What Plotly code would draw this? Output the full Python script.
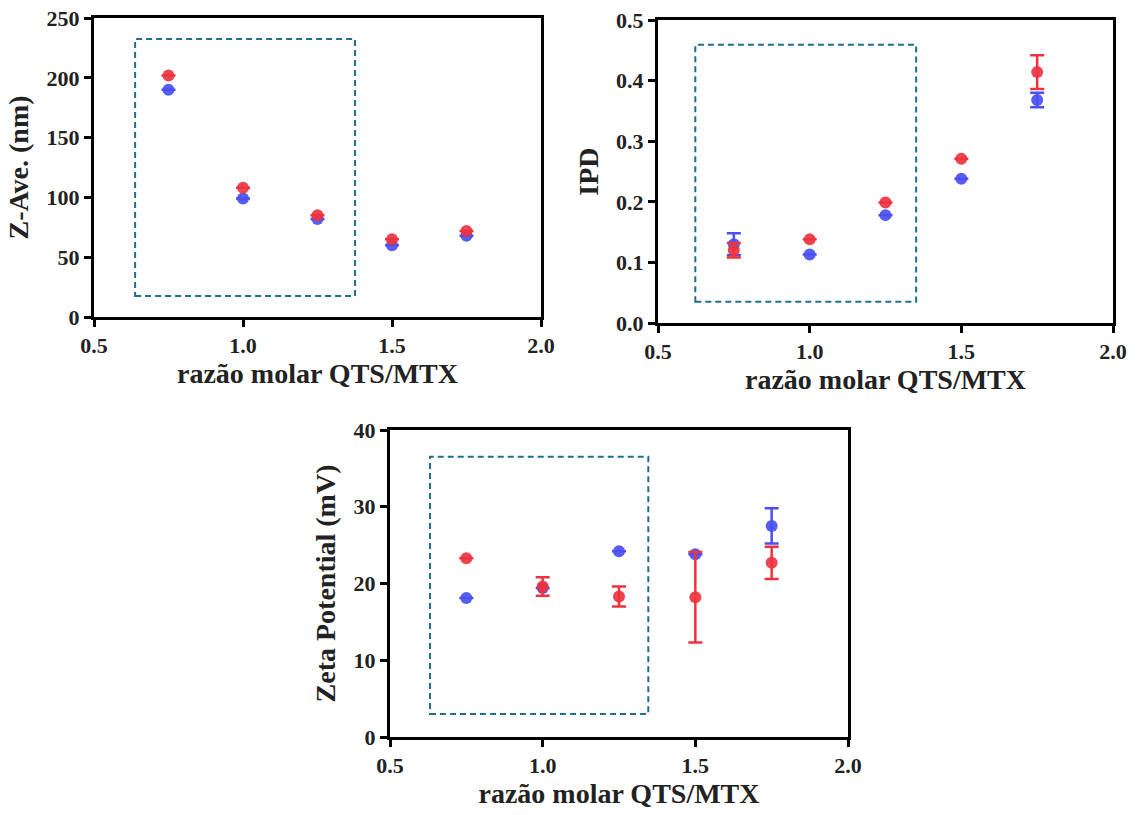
import plotly.graph_objects as go

# ---------------- data ----------------
ratio = [0.75, 1.0, 1.25, 1.5, 1.75]

zave_blue = [190, 99, 82, 60, 68]
zave_blue_err = [0, 0, 0, 0, 0]
zave_red = [202, 108, 85, 65, 72]
zave_red_err = [0, 0, 0, 0, 0]

ipd_blue = [0.130, 0.113, 0.178, 0.238, 0.368]
ipd_blue_err = [0.018, 0, 0, 0, 0.012]
ipd_red = [0.120, 0.138, 0.199, 0.271, 0.414]
ipd_red_err = [0.012, 0, 0, 0, 0.028]

zeta_blue = [18.1, 19.4, 24.2, 23.8, 27.5]
zeta_blue_err = [0, 0, 0, 0, 2.3]
zeta_red = [23.3, 19.6, 18.3, 18.2, 22.7]
zeta_red_err = [0, 1.2, 1.3, 5.9, 2.1]

# dashed highlight boxes: [x0, x1, y0, y1]
box_zave = [0.638, 1.376, 17.5, 232.5]
box_ipd = [0.623, 1.351, 0.035, 0.459]
box_zeta = [0.631, 1.346, 3.0, 36.5]

x_ticks = [0.5, 1.0, 1.5, 2.0]
x_title = "razão molar QTS/MTX"

BLUE = "#4a4ff0"
RED = "#ee3340"
BOX = "#1f6f8b"
FONT = "Liberation Serif"

fig = go.Figure()

panels = [
    ("x", "y", zave_blue, zave_blue_err, zave_red, zave_red_err),
    ("x2", "y2", ipd_blue, ipd_blue_err, ipd_red, ipd_red_err),
    ("x3", "y3", zeta_blue, zeta_blue_err, zeta_red, zeta_red_err),
]

for xa, ya, b, be, r, re in panels:
    for vals, errs, col in ((b, be, BLUE), (r, re, RED)):
        fig.add_trace(go.Scatter(
            x=ratio, y=vals, xaxis=xa, yaxis=ya, mode="markers",
            marker=dict(color=col, size=12, symbol="circle", opacity=0.92),
            error_y=dict(type="data", array=errs, color=col, thickness=2.5, width=7),
            showlegend=False, hoverinfo="x+y",
        ))

axis_common = dict(
    showline=True, linecolor="black", linewidth=3, mirror=True,
    ticks="outside", ticklen=7, tickwidth=3, tickcolor="black",
    showgrid=False, zeroline=False, automargin=False,
    tickfont=dict(family=FONT, size=22, color="#222222", weight="bold"),
    title_font=dict(family=FONT, size=28, color="#222222", weight="bold"),
)

def xaxis(domain, anchor):
    return dict(axis_common, domain=domain, anchor=anchor, range=[0.5, 2.0],
                tickvals=x_ticks, tickformat=".1f",
                title=dict(text=x_title, standoff=6))

def yaxis(domain, anchor, rng, dtick, fmt, title):
    return dict(axis_common, domain=domain, anchor=anchor, range=rng,
                dtick=dtick, tick0=0, tickformat=fmt,
                title=dict(text=title, standoff=10))

W, H = 1140, 815
fig.update_layout(
    width=W, height=H, autosize=False,
    margin=dict(l=0, r=0, t=0, b=0, autoexpand=False),
    paper_bgcolor="white", plot_bgcolor="white",
    font=dict(family=FONT),
    xaxis=xaxis([94 / W, 541 / W], "y"),
    yaxis=yaxis([1 - 317 / H, 1 - 18 / H], "x", [0, 250], 50, "d", "Z-Ave. (nm)"),
    xaxis2=xaxis([658 / W, 1113 / W], "y2"),
    yaxis2=yaxis([1 - 323 / H, 1 - 20 / H], "x2", [0, 0.5], 0.1, ".1f", "IPD"),
    xaxis3=xaxis([390 / W, 848 / W], "y3"),
    yaxis3=yaxis([1 - 737 / H, 1 - 430 / H], "x3", [0, 40], 10, "d", "Zeta Potential (mV)"),
)

for (x0, x1, y0, y1), xr, yr in ((box_zave, "x", "y"), (box_ipd, "x2", "y2"), (box_zeta, "x3", "y3")):
    fig.add_shape(type="rect", xref=xr, yref=yr, x0=x0, x1=x1, y0=y0, y1=y1,
                  line=dict(color=BOX, width=2, dash="6px,4px"), fillcolor="rgba(0,0,0,0)")

fig.write_html("out.html")
